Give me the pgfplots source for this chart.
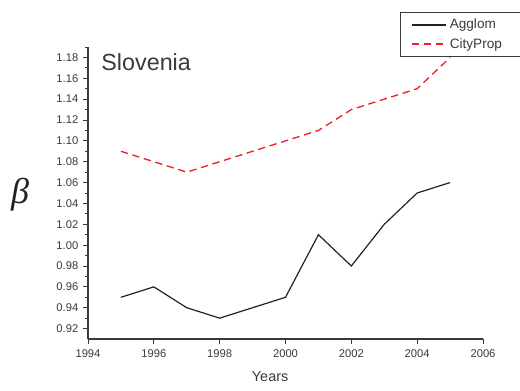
\documentclass[border=0pt]{standalone}
\usepackage{pgfplots}
\pgfplotsset{compat=1.18}
\usepackage{fontspec}
\setmainfont{Liberation Sans}
\newfontfamily\greekserif{Liberation Serif}
\definecolor{axisgray}{HTML}{3A3A3A}
\definecolor{lineblack}{HTML}{222222}
\definecolor{cityred}{HTML}{F0202A}

\begin{document}
\begin{tikzpicture}
% fixed page frame around the plot area
\useasboundingbox (-66pt,-38.25pt) rectangle (324pt,254.25pt);
\begin{axis}[
  at={(0,0)}, anchor=south west,
  scale only axis,
  width=296.25pt, height=219pt,
  xmin=1994, xmax=2006,
  ymin=0.91, ymax=1.19,
  axis x line=bottom, axis y line=left,
  axis line style={-, axisgray, line width=0.8pt},
  xtick={1994,1996,...,2006},
  ytick={0.92,0.94,...,1.19},
  minor x tick num=1,
  minor y tick num=1,
  tick align=outside,
  major tick length=3.75pt,
  minor tick length=2.25pt,
  tick style={axisgray, line width=0.7pt},
  /pgf/number format/assume math mode=true,
  tick label style={font=\fontsize{8.4}{9}\selectfont, text=axisgray},
  xticklabel style={/pgf/number format/1000 sep={}, yshift=-1pt},
  yticklabel style={/pgf/number format/.cd, fixed, fixed zerofill, precision=2},
  xlabel={Years},
  xlabel style={at={(axis description cs:0.461,0)}, anchor=center, yshift=-28.5pt,
    font=\fontsize{10.8}{12}\selectfont, text=axisgray},
  ylabel={\greekserif\itshape β},
  ylabel style={rotate=-90, at={(axis description cs:0,0.493)}, anchor=center,
    xshift=-51pt, font=\fontsize{27}{29}\selectfont, text=lineblack},
  legend style={at={(axis description cs:0.79,1.12)}, anchor=north west,
    draw=axisgray, line width=0.6pt, fill=white,
    font=\fontsize{10.2}{11}\selectfont, text=axisgray,
    inner xsep=8pt, inner ysep=3pt,
    row sep=1.5pt},
  legend cell align=left,
  legend image code/.code={\draw[#1] (0pt,0pt) -- (26pt,0pt);},
]
\addplot[draw=lineblack, line width=0.9pt] coordinates {
  (1995,0.95) (1996,0.96) (1997,0.94) (1998,0.93) (1999,0.94) (2000,0.95)
  (2001,1.01) (2002,0.98) (2003,1.02) (2004,1.05) (2005,1.06)};
\addlegendentry{Agglom}
\addplot[draw=cityred, line width=1pt, dash pattern=on 5.5pt off 3.5pt] coordinates {
  (1995,1.09) (1996,1.08) (1997,1.07) (1998,1.08) (1999,1.09) (2000,1.10)
  (2001,1.11) (2002,1.13) (2003,1.14) (2004,1.15) (2005,1.18)};
\addlegendentry{CityProp\hspace*{6pt}}
\node[anchor=west, text=axisgray, font=\fontsize{17.5}{19}\selectfont]
  at (rel axis cs:0.022,0.949) {Slovenia};
\end{axis}
\end{tikzpicture}
\end{document}
